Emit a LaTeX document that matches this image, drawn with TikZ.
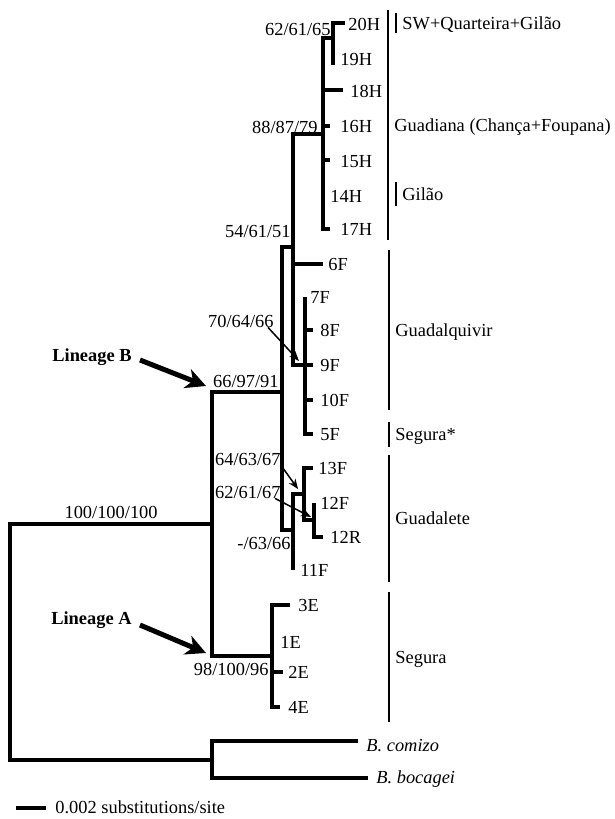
\documentclass[tikz,border=0pt]{standalone}
\usepackage{fontspec}
\setmainfont{Liberation Serif}
\usetikzlibrary{arrows.meta}
\newcommand{\region}[5]{
\draw[line width=1pt] (#1,#2) -- (#1,#3);
\node[tiplab] (#5) at ({#1+6},{(#2+#3)/2}) {#4};
}
\begin{document}
\begin{tikzpicture}[x=0.5pt,y=-0.5pt,font=\fontsize{9.2}{11}\selectfont,
    br/.style={line width=2pt,line join=miter},
    tiplab/.style={anchor=west,inner sep=0pt,text height=6pt,text depth=0pt},
    supp/.style={anchor=east,inner sep=0pt,text height=6pt,text depth=0pt},
    pointer/.style={line width=0.75pt,-{Stealth[length=5pt,width=4pt]}},
    fat/.style={line width=2.5pt,-{Stealth[length=10pt,width=10pt,inset=3pt]}}]
\useasboundingbox (0,0) rectangle (615,819);

\draw[br] (345,23) -| (333,65);
\draw[br] (333,38) -| (323,229) -- (330,229);
\foreach \y in {126,160} \draw[br] (323,\y) -- (330,\y);
\draw[br] (323,90) -- (343,90);
\draw[br] (323,134) -| (293,365) -- (305,365);
\draw[br] (293,264) -- (323,264);
\draw[br] (305,297) |- (313,434);
\foreach \y in {330,365,400} \draw[br] (305,\y) -- (313,\y);
\draw[br] (293,247) -| (282,530) -- (293,530);
\draw[br] (282,392) -| (212,656) -- (272,656);
\draw[br] (304,494) -| (293,570);
\draw[br] (313,468) -| (304,520) -- (314,520);
\draw[br] (314,503) |- (323,537);
\draw[br] (290,605) -| (272,707) -- (280,707);
\draw[br] (272,672) -- (283,672);
\draw[br] (212,524) -| (10,760) -- (212,760);
\draw[br] (358,741) -| (212,778) -- (368,778);
\draw[br] (16,808) -- (46,808);

\foreach \x/\y/\t in {348/25/20H,340/59/19H,350/91/18H,340/126/16H,340/161/15H,330/196/14H,
    340/229/17H,328/264/6F,310/297/7F,320/330/8F,320/365/9F,320/400/10F,320/434/5F,
    318/468/13F,320/503/12F,330/537/12R,300/570/11F,298/605/3E,280/642/1E,288/672/2E,288/707/4E}
    \node[tiplab] (\t) at (\x,\y) {\t};
\node[tiplab] (comizo) at (366,745) {\itshape B. comizo};
\node[tiplab] (bocagei) at (376,777) {\itshape B. bocagei};
\node[tiplab] (scale) at (55,807) {0.002 substitutions/site};

\node[supp] (s626165) at (331,29) {62/61/65};
\node[supp] (s888779) at (318,127) {88/87/79};
\node[supp] (s546151) at (291,231) {54/61/51};
\node[supp] (s706466) at (274,321) {70/64/66};
\node[supp] (s669791) at (279,381) {66/97/91};
\node[supp] (s646367) at (281,459) {64/63/67};
\node[supp] (s626167) at (281,492) {62/61/67};
\node[supp] (s6366) at (291,543) {-/63/66};
\node[supp] (s9810096) at (269,669) {98/100/96};
\node[supp] (s100) at (158,512) {100/100/100};

\coordinate (n706466) at (299,361);
\coordinate (n646367) at (298,489);
\coordinate (n626167) at (311,517);
\draw[pointer] ([xshift=-3pt]s706466.south east) -- (n706466);
\draw[pointer] (s646367.south east) -- (n646367);
\draw[pointer] ([xshift=-3pt]s626167.south east) -- (n626167);

\node[supp] (linB) at (132,355) {\bfseries Lineage B};
\node[supp] (linA) at (132,618) {\bfseries Lineage A};
\coordinate (tipB) at (206,386);
\coordinate (tipA) at (206,653);
\draw[fat] ([xshift=4pt,yshift=-2.5pt]linB.east) -- (tipB);
\draw[fat] ([xshift=4pt,yshift=-3.5pt]linA.east) -- (tipA);

\region{396}{13}{33}{SW+Quarteira+Gilão}{sw}
\region{388}{10}{240}{Guadiana (Chança+Foupana)}{gdn}
\region{396}{182}{206}{Gilão}{gil}
\region{389}{250}{410}{Guadalquivir}{gdq}
\region{389}{422}{447}{Segura*}{sgs}
\region{389}{455}{582}{Guadalete}{gdl}
\region{389}{592}{722}{Segura}{sgr}
\end{tikzpicture}
\end{document}
